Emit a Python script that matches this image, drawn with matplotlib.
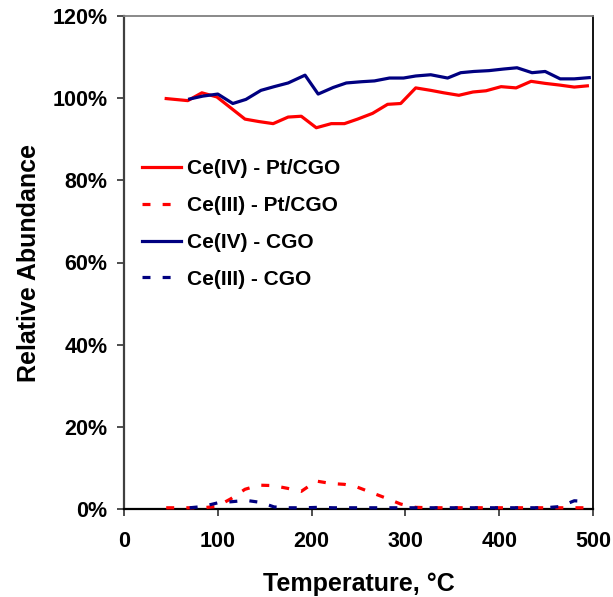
import matplotlib
matplotlib.use('Agg')
import matplotlib.pyplot as plt
from matplotlib.ticker import FuncFormatter

plt.rcParams['font.family'] = ['Liberation Sans', 'DejaVu Sans']
plt.rcParams['font.weight'] = 'bold'

# Pt/CGO sample (red)
temp_pt = [45, 68, 83, 99, 114, 129, 144, 159, 175, 189, 205, 221, 235, 249, 265,
           281, 295, 311, 327, 341, 357, 372, 386, 402, 418, 434, 449, 464, 480, 494]
ce4_pt = [99.9, 99.4, 101.3, 100.3, 97.6, 94.9, 94.3, 93.8, 95.4, 95.6, 92.8, 93.8,
          93.8, 94.9, 96.3, 98.5, 98.7, 102.5, 101.9, 101.3, 100.7, 101.5, 101.8,
          102.8, 102.5, 104.1, 103.6, 103.2, 102.7, 103.0]
ce3_pt = [0.3, 0.3, 0.3, 0.6, 2.5, 4.8, 5.8, 5.7, 5.0, 4.3, 6.8, 6.2, 6.0, 5.3, 3.9,
          2.5, 1.2, 0.4, 0.3, 0.3, 0.3, 0.3, 0.3, 0.3, 0.3, 0.3, 0.3, 0.3, 0.3, 0.3]

# CGO sample (navy)
temp_cgo = [70, 84, 100, 116, 130, 146, 160, 175, 193, 207, 223, 237, 253, 267, 283,
            298, 311, 327, 345, 359, 373, 389, 405, 419, 435, 449, 465, 480, 496]
ce4_cgo = [99.8, 100.5, 101.0, 98.7, 99.7, 101.9, 102.8, 103.7, 105.6, 101.0, 102.6,
           103.7, 104.0, 104.2, 104.9, 104.9, 105.4, 105.7, 104.9, 106.2, 106.5,
           106.7, 107.1, 107.4, 106.2, 106.5, 104.7, 104.7, 105.0]
ce3_cgo = [0.3, 0.6, 1.5, 1.8, 2.1, 1.6, 0.5, 0.3, 0.3, 0.4, 0.3, 0.3, 0.3, 0.3, 0.3,
           0.3, 0.3, 0.3, 0.3, 0.3, 0.3, 0.3, 0.3, 0.3, 0.3, 0.3, 0.6, 2.0, 1.8]

RED = '#ff0000'
NAVY = '#000080'
DASH = (0, (2.5, 3.8))

fig = plt.figure(figsize=(6.13, 5.97), dpi=100)
ax = fig.add_axes([124 / 613, 88 / 597, 469 / 613, 493 / 597])

lw = 2.3
ax.plot(temp_pt, ce4_pt, color=RED, lw=lw, label='Ce(IV) - Pt/CGO')
ax.plot(temp_pt, ce3_pt, color=RED, lw=lw, linestyle=DASH, label='Ce(III) - Pt/CGO',
        clip_on=False, zorder=3)
ax.plot(temp_cgo, ce4_cgo, color=NAVY, lw=lw, label='Ce(IV) - CGO')
ax.plot(temp_cgo, ce3_cgo, color=NAVY, lw=lw, linestyle=DASH, label='Ce(III) - CGO',
        clip_on=False, zorder=3)

ax.set_xlim(0, 500)
ax.set_ylim(0, 120)
ax.set_xticks(range(0, 501, 100))
ax.set_yticks(range(0, 121, 20))
ax.yaxis.set_major_formatter(FuncFormatter(lambda v, _: f'{v:.0f}%'))

ax.tick_params(axis='both', direction='out', length=5, width=1.3, labelsize=15.5,
               color='#404040')
ax.tick_params(axis='y', pad=7)
ax.tick_params(axis='x', pad=11)
for lab in ax.get_xticklabels() + ax.get_yticklabels():
    lab.set_fontweight('bold')

ax.spines['left'].set_color('#404040')
ax.spines['left'].set_linewidth(1.6)
ax.spines['bottom'].set_color('black')
ax.spines['bottom'].set_linewidth(1.6)
ax.spines['top'].set_color('#808080')
ax.spines['top'].set_linewidth(1.3)
ax.spines['right'].set_color('black')
ax.spines['right'].set_linewidth(1.3)

ax.set_xlabel('Temperature, °C', fontsize=18, fontweight='bold', labelpad=14)
ax.set_ylabel('Relative Abundance', fontsize=18, fontweight='bold', labelpad=8)

leg = ax.legend(loc='upper left', bbox_to_anchor=(0.038, 0.71), frameon=False,
                fontsize=15, handlelength=1.9, handletextpad=0.25,
                labelspacing=0.86, borderpad=0, borderaxespad=0)
for t in leg.get_texts():
    t.set_fontweight('bold')

fig.savefig('out.png', dpi=100)
